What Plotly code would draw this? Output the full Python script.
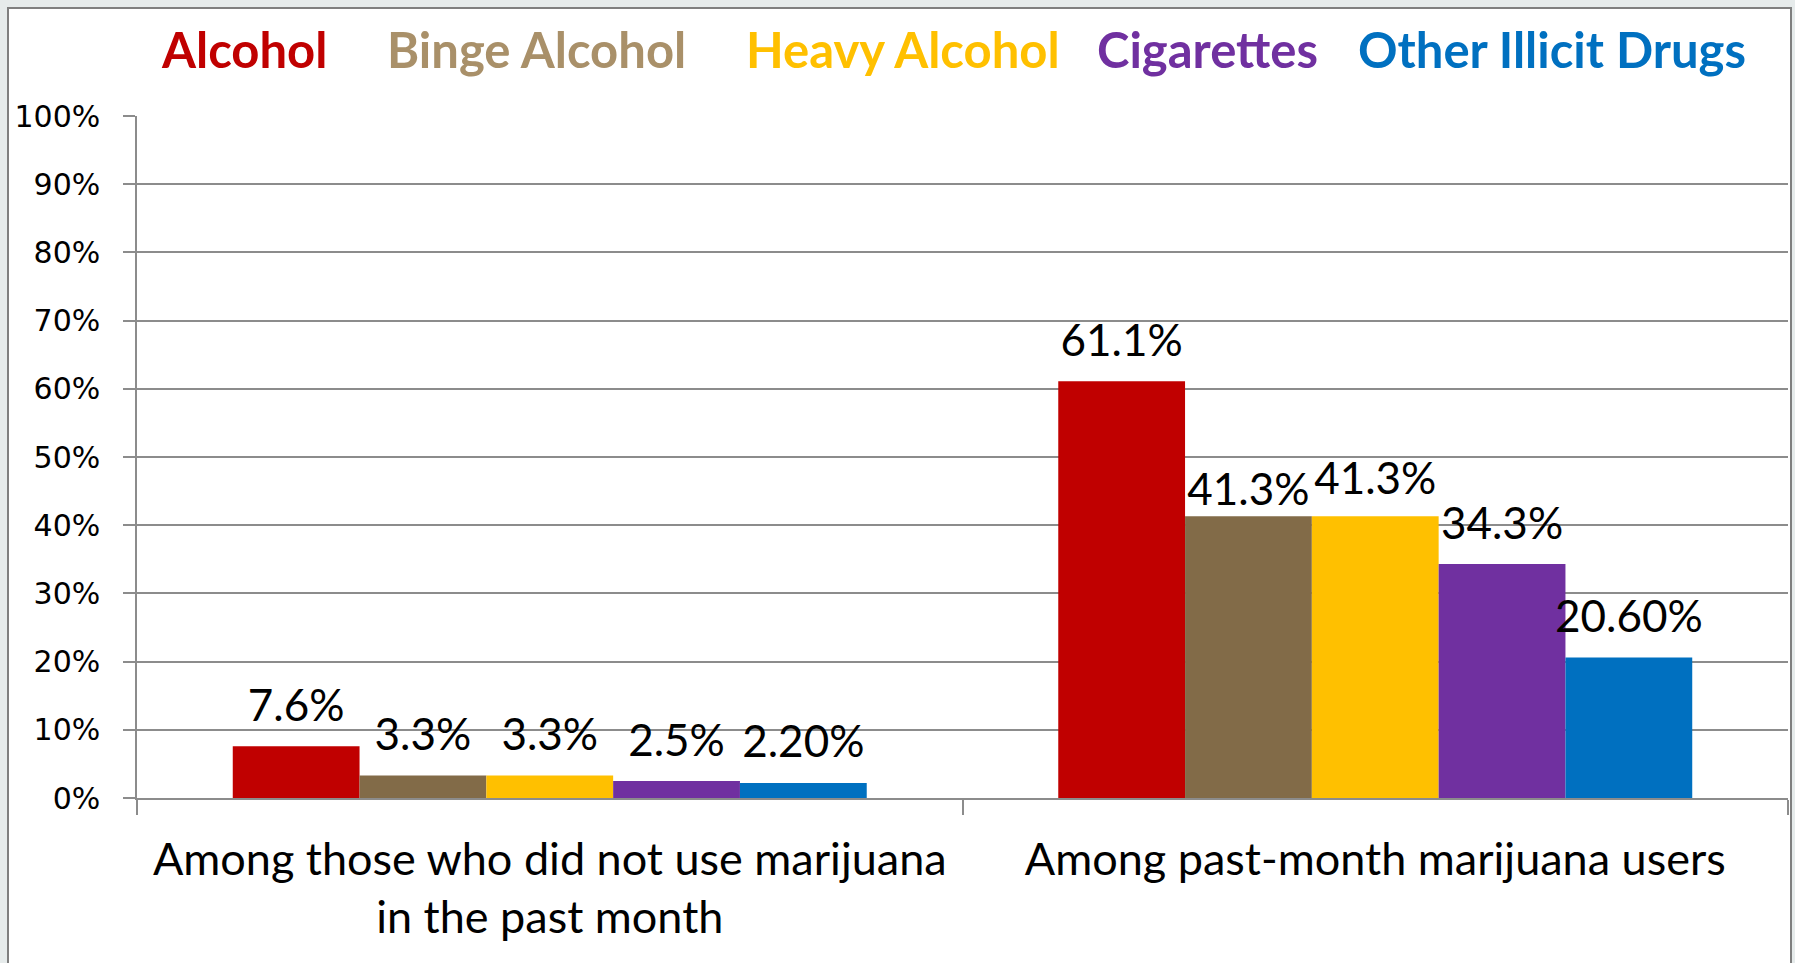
import plotly.graph_objects as go

# ---------------- data ----------------
categories = [
    "Among those who did not use marijuana<br>in the past month",
    "Among past-month marijuana users",
]
series_names = ["Alcohol", "Binge Alcohol", "Heavy Alcohol", "Cigarettes", "Other Illicit Drugs"]
alcohol = [7.6, 61.1]
binge_alcohol = [3.3, 41.3]
heavy_alcohol = [3.3, 41.3]
cigarettes = [2.5, 34.3]
other_illicit = [2.2, 20.6]
series_values = [alcohol, binge_alcohol, heavy_alcohol, cigarettes, other_illicit]
label_text = [
    ["7.6%", "61.1%"],
    ["3.3%", "41.3%"],
    ["3.3%", "41.3%"],
    ["2.5%", "34.3%"],
    ["2.20%", "20.60%"],
]
y_ticks = list(range(0, 101, 10))

# ---------------- style ----------------
bar_colors = ["#C00000", "#826B48", "#FFC000", "#7030A0", "#0070C0"]
legend_text_colors = ["#C00000", "#A99069", "#FFC000", "#7030A0", "#0070C0"]
# invisible marker sizes controlling the gap between bar top and its label
label_gap_sizes = [
    [21, 21],
    [21, 0],
    [21, 17],
    [21, 21],
    [23, 21],
]

W, H = 1795, 963
L, R, T, B = 137, 7, 116, 165
PW, PH = W - L - R, H - T - B
BARGAP = 0.232


def px_x(x):
    return (x - L) / PW


def px_y(y):
    return (H - B - y) / PH


fig = go.Figure()
for name, vals, col in zip(series_names, series_values, bar_colors):
    fig.add_trace(go.Bar(
        name=name,
        x=categories,
        y=vals,
        marker=dict(color=col, line=dict(width=0)),
        showlegend=False,
    ))

# data labels, grouped like the bars, sitting above each bar
for name, vals, labels, sizes in zip(series_names, series_values, label_text, label_gap_sizes):
    fig.add_trace(go.Scatter(
        name=name,
        x=categories,
        y=vals,
        mode="markers+text",
        text=labels,
        textposition="top center",
        marker=dict(size=sizes, opacity=0),
        textfont=dict(family="Lato", size=44, color="#000000"),
        cliponaxis=False,
        hoverinfo="skip",
        showlegend=False,
    ))

# legend drawn as coloured text (as in the original)
legend_centers = [244, 536, 903, 1207, 1552]
for name, col, cx in zip(series_names, legend_text_colors, legend_centers):
    fig.add_annotation(
        x=px_x(cx), y=px_y(49), xref="paper", yref="paper",
        text=f"<b>{name}</b>", showarrow=False,
        xanchor="center", yanchor="middle",
        font=dict(family="Lato", size=49, color=col),
    )

# white chart area with frame over grey page background
fig.add_shape(
    type="rect", xref="paper", yref="paper", layer="below",
    x0=px_x(8), x1=px_x(1791), y0=px_y(8), y1=px_y(H + 20),
    fillcolor="#FFFFFF", line=dict(color="#7F7F7F", width=2),
)

fig.update_layout(
    width=W, height=H,
    margin=dict(l=L, r=R, t=T, b=B, pad=0),
    paper_bgcolor="#E6EBEB",
    plot_bgcolor="rgba(0,0,0,0)",
    barmode="group",
    bargap=BARGAP,
    bargroupgap=0,
    scattermode="group",
    scattergap=BARGAP,
    font=dict(family="Lato", color="#000000"),
    xaxis=dict(
        type="category",
        showgrid=False,
        showline=True, linecolor="#8C8C8C", linewidth=1.5,
        ticks="outside", tickson="boundaries", ticklen=15,
        tickcolor="#8C8C8C", tickwidth=1.5,
        tickfont=dict(family="Lato", size=45, color="#000000"),
        ticklabelstandoff=21,
    ),
    yaxis=dict(
        range=[0, 100],
        tickvals=y_ticks,
        ticktext=[f"{v}%" for v in y_ticks],
        showgrid=True, gridcolor="#8C8C8C", gridwidth=1.5,
        zeroline=False,
        showline=True, linecolor="#8C8C8C", linewidth=1.5,
        ticks="outside", ticklen=12, tickcolor="#8C8C8C", tickwidth=1.5,
        tickfont=dict(family="DejaVu Sans", size=30, color="#000000"),
        ticklabelstandoff=17,
    ),
)

fig.write_html("out.html")
